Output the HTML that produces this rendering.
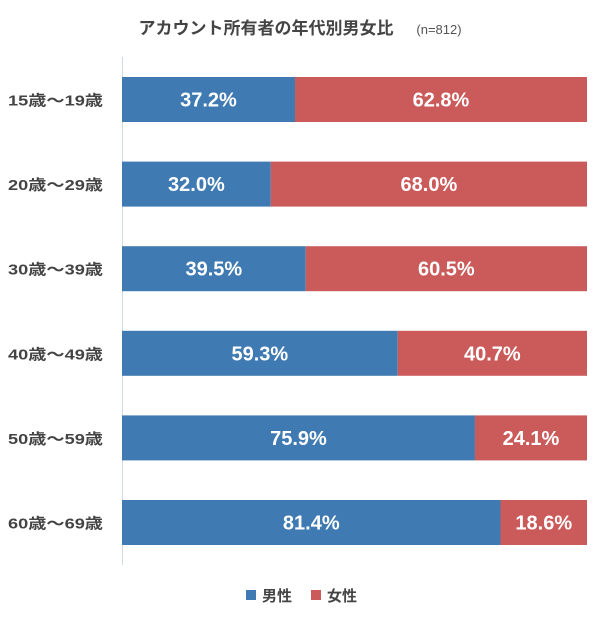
<!DOCTYPE html>
<html><head><meta charset="utf-8"><style>
body{margin:0;background:#fff;}
svg text{font-family:"Liberation Sans","Noto Sans CJK JP",sans-serif;}
</style></head><body>
<svg width="600" height="618">
<text x="266" y="34" text-anchor="middle" font-size="17" font-weight="bold" fill="#444">アカウント所有者の年代別男女比</text>
<text x="439" y="34" text-anchor="middle" font-size="13" fill="#555">(n=812)</text>
<line x1="122.5" y1="57" x2="122.5" y2="565" stroke="#d0d8e4" stroke-width="1"/>
<g id="bars"></g>
<rect x="246" y="590" width="10" height="10" fill="#3f7ab2"/>
<text x="262" y="601" font-size="15" font-weight="bold" fill="#444">男性</text>
<rect x="311" y="590" width="10" height="10" fill="#cb5b5b"/>
<text x="327" y="601" font-size="15" font-weight="bold" fill="#444">女性</text>
</svg>
<script>
const categories=["15歳〜19歳","20歳〜29歳","30歳〜39歳","40歳〜49歳","50歳〜59歳","60歳〜69歳"];
const male=[37.2,32.0,39.5,59.3,75.9,81.4];
const female=[62.8,68.0,60.5,40.7,24.1,18.6];
const NS="http://www.w3.org/2000/svg";
const g=document.getElementById('bars');
const x0=122,x1=587,top0=77,pitch=84.6,bh=45;
const xs=v=>x0+(x1-x0)*v/100;
function mk(t,a){const e=document.createElementNS(NS,t);for(const k in a)e.setAttribute(k,a[k]);g.appendChild(e);return e;}
categories.forEach((c,i)=>{
 const y=top0+i*pitch, tot=male[i]+female[i];
 const xm=xs(male[i]/tot*100);
 const l=mk('text',{x:8,y:y+bh/2+6,'font-size':15,'font-weight':'bold',fill:'#444',textLength:95,lengthAdjust:'spacingAndGlyphs'});l.textContent=c;
 
 
 const r1=mk('rect',{x:x0,y:y,width:xm-x0,height:bh,fill:'#3f7ab2'});
 
 
 const r2=mk('rect',{x:xm,y:y,width:x1-xm,height:bh,fill:'#cb5b5b'});
 
 
 const t1=mk('text',{x:(x0+xm)/2,y:y+bh/2+7,'text-anchor':'middle','font-size':20,'font-weight':'bold',fill:'#fff'});t1.textContent=male[i].toFixed(1)+'%';
 
 
 const t2=mk('text',{x:(xm+x1)/2,y:y+bh/2+7,'text-anchor':'middle','font-size':20,'font-weight':'bold',fill:'#fff'});t2.textContent=female[i].toFixed(1)+'%';
 
 
});
</script>
</body></html>
